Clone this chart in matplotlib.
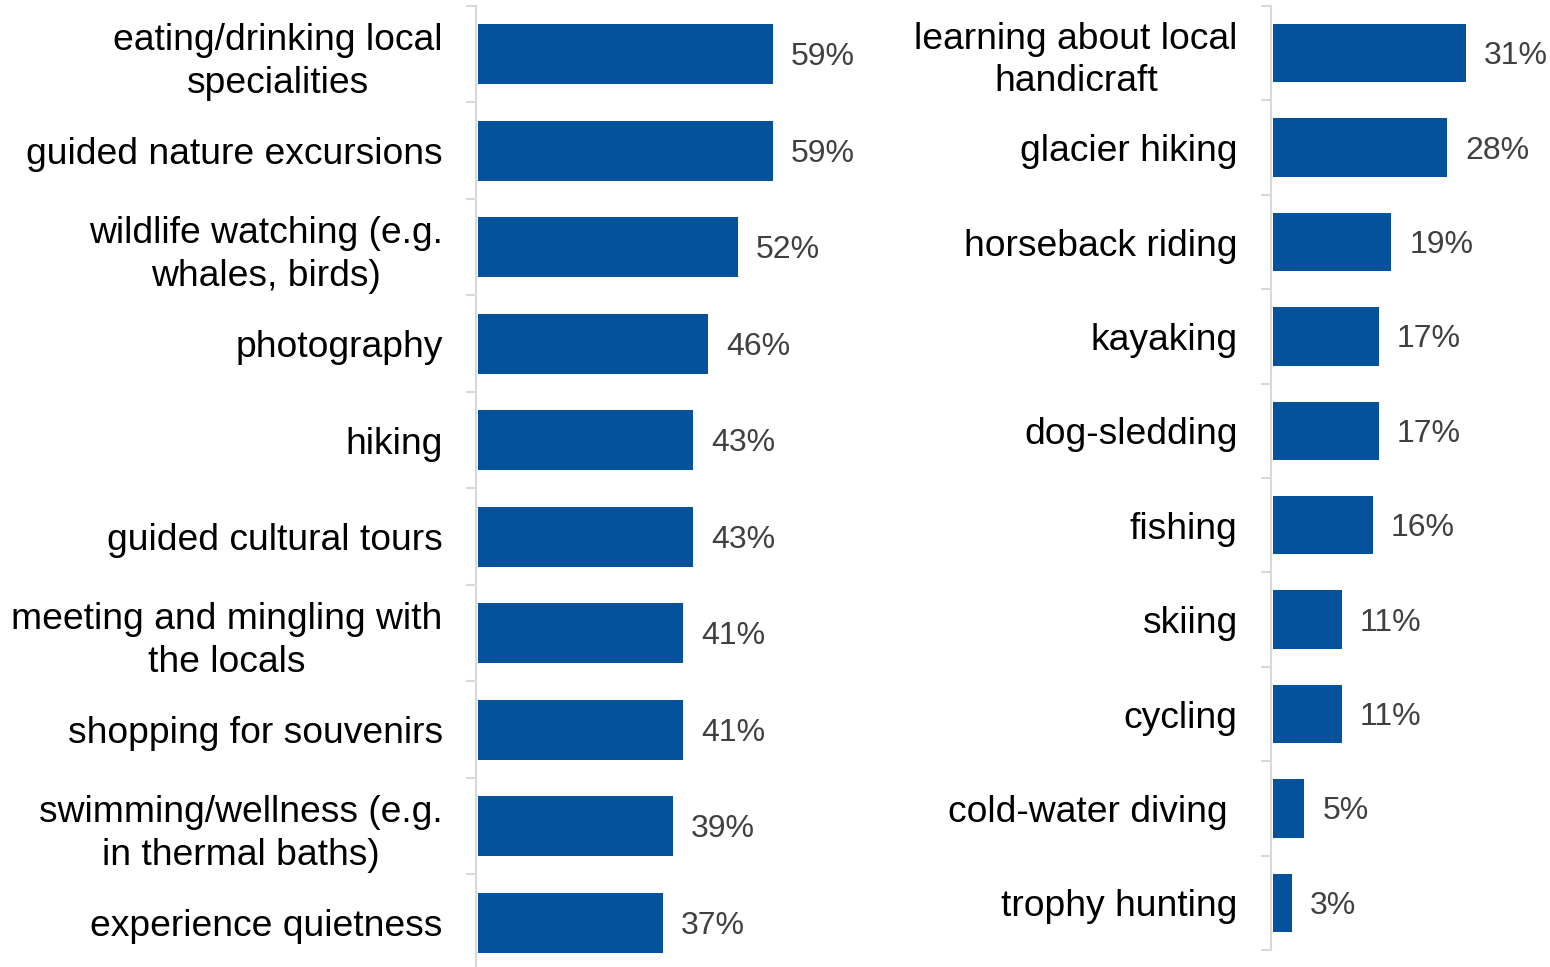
import matplotlib
matplotlib.use("Agg")
import matplotlib.pyplot as plt
import numpy as np

plt.rcParams['font.family'] = ['Liberation Sans', 'DejaVu Sans']

left_labels = ['eating/drinking local\nspecialities', 'guided nature excursions',
               'wildlife watching (e.g.\nwhales, birds)', 'photography', 'hiking',
               'guided cultural tours', 'meeting and mingling with\nthe locals',
               'shopping for souvenirs', 'swimming/wellness (e.g.\nin thermal baths)',
               'experience quietness']
left_values = [59, 59, 52, 46, 43, 43, 41, 41, 39, 37]

right_labels = ['learning about local\nhandicraft', 'glacier hiking', 'horseback riding',
                'kayaking', 'dog-sledding', 'fishing', 'skiing', 'cycling',
                'cold-water diving ', 'trophy hunting']
right_values = [31, 28, 19, 17, 17, 16, 11, 11, 5, 3]

W, H = 1550, 967
fig = plt.figure(figsize=(W / 100, H / 100), dpi=100)

bar_color = '#03529B'
grey = '#d9d9d9'


def panel(rect, labels, values, xmax):
    ax = fig.add_axes(rect)
    n = len(labels)
    y = np.arange(n)
    ax.barh(y, values, height=0.62, color=bar_color, left=0.4)
    ax.set_xlim(0, xmax)
    ax.set_ylim(n - 0.5, -0.5)
    ax.set_yticks(y)
    ax.set_yticklabels(labels, fontsize=26.8, color='black', multialignment='center',
                       linespacing=1.27)
    ax.set_yticks(np.arange(n + 1) - 0.5, minor=True)
    ax.tick_params(axis='y', which='major', length=0, pad=24)
    ax.tick_params(axis='y', which='minor', length=7.5, width=1.5, color=grey)
    ax.set_xticks([])
    for s in ['top', 'right', 'bottom']:
        ax.spines[s].set_visible(False)
    ax.spines['left'].set_color(grey)
    ax.spines['left'].set_linewidth(1.5)
    for yi, v in zip(y, values):
        ax.annotate(f'{v}%', xy=(v + 0.4, yi), xytext=(18, -3),
                    textcoords='offset pixels', va='center', ha='left',
                    fontsize=23, color='#404040', annotation_clip=False)
    return ax


# left panel: axis at x=476, 5 px per percent
lx, lw = 476 / W, 375 / W
panel([lx, (H - 971) / H, lw, 965 / H], left_labels, left_values, 75)

# right panel: axis at x=1271, ~6.2 px per percent
rx, rw = 1271 / W, 248 / W
panel([rx, (H - 950) / H, rw, 944 / H], right_labels, right_values, 40)

fig.savefig('out.png', dpi=100)
